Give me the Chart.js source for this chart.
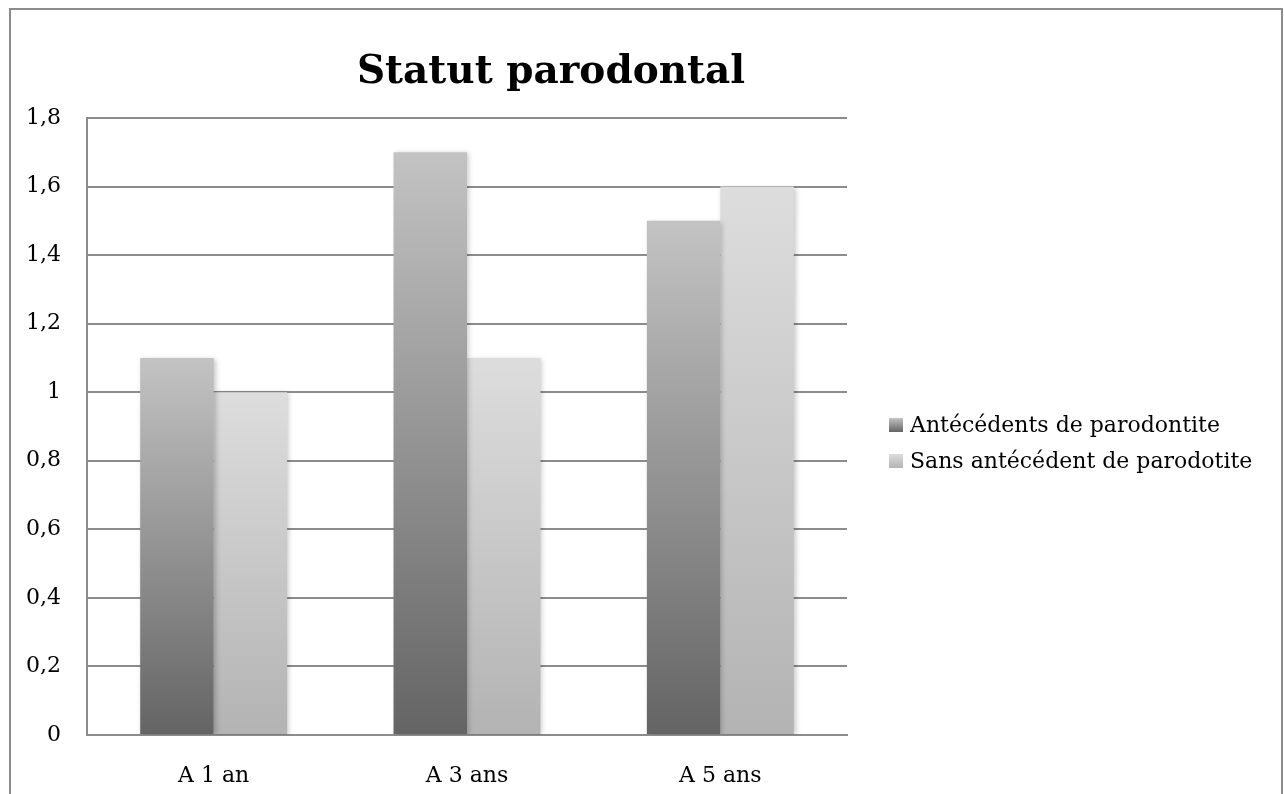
<!DOCTYPE html>
<html>
<head>
<meta charset="utf-8">
<script src="https://cdn.jsdelivr.net/npm/chart.js@4/dist/chart.umd.min.js"></script>
<style>
  body { margin: 0; background: #fff; }
  #wrap { position: relative; width: 1284px; height: 794px; }
  #frame {
    position: absolute; left: 9px; top: 8px; width: 1270px; height: 800px;
    border: 2px solid #8c8c8c; border-bottom: none; pointer-events: none;
  }
  canvas { position: absolute; left: 0; top: 0; }
</style>
</head>
<body>
<div id="wrap">
  <canvas id="chart" width="1284" height="794"></canvas>
  <div id="frame"></div>
</div>
<script>
const chartTitle = "Statut parodontal";
const categories = ["A 1 an", "A 3 ans", "A 5 ans"];
const seriesNames = ["Antécédents de parodontite", "Sans antécédent de parodotite"];
const withHistory = [1.1, 1.7, 1.5];
const withoutHistory = [1.0, 1.1, 1.6];
const yTicks = [0, 0.2, 0.4, 0.6, 0.8, 1, 1.2, 1.4, 1.6, 1.8];

// gradient stops, bottom -> top
let barShades = [
    ["#646464", "#c3c3c3"],
    ["#b3b3b3", "#dddddd"],
];

const serif = "'DejaVu Serif', serif";

function barGradient(context) {
    let chart = context.chart;
    if (!chart.chartArea || context.type !== "data") return barShades[context.datasetIndex][0];
    let y = chart.scales.y;
    let bottom = y.getPixelForValue(0);
    let top = y.getPixelForValue(context.raw);
    let g = chart.ctx.createLinearGradient(0, bottom, 0, top);
    g.addColorStop(0, barShades[context.datasetIndex][0]);
    g.addColorStop(1, barShades[context.datasetIndex][1]);
    return g;
}

const decor = {
    id: "decor",
    beforeDatasetsDraw(chart) {
        let ctx = chart.ctx;
        ctx.save();
        ctx.shadowColor = "rgba(0,0,0,0.22)";
        ctx.shadowBlur = 5;
        ctx.shadowOffsetX = 2;
        ctx.shadowOffsetY = 1;
    },
    afterDatasetsDraw(chart) {
        chart.ctx.restore();
    },
    afterDraw(chart) {
        let ctx = chart.ctx;
        ctx.save();
        ctx.fillStyle = "#000";
        ctx.textAlign = "center";
        ctx.textBaseline = "middle";
        ctx.font = "bold 39px " + serif;
        ctx.fillText(chartTitle, 551, 73);

        ctx.font = "22px " + serif;
        ctx.textAlign = "left";
        for (let i = 0; i < seriesNames.length; i++) {
            let cy = 425 + i * 36;
            let g = ctx.createLinearGradient(0, cy + 7, 0, cy - 7);
            g.addColorStop(0, barShades[i][0]);
            g.addColorStop(1, barShades[i][1]);
            ctx.fillStyle = g;
            ctx.fillRect(889, cy - 7, 14, 14);
            ctx.fillStyle = "#000";
            ctx.fillText(seriesNames[i], 910, cy + 1);
        }
        ctx.restore();
    },
};

new Chart(document.getElementById("chart"), {
    type: "bar",
    data: {
        labels: categories,
        datasets: [
            { label: seriesNames[0], data: withHistory, backgroundColor: barGradient },
            { label: seriesNames[1], data: withoutHistory, backgroundColor: barGradient },
        ],
    },
    options: {
        responsive: false,
        animation: false,
        layout: { padding: { top: 118, right: 437, bottom: 0, left: 0 } },
        datasets: { bar: { categoryPercentage: 0.58, barPercentage: 1 } },
        plugins: {
            legend: false,
            title: false,
            tooltip: false,
        },
        scales: {
            x: {
                afterFit: function (scale) { scale.height = 59; },
                grid: { display: false, drawTicks: false },
                border: { color: "#8c8c8c", width: 2 },
                ticks: { color: "#000", padding: 28, font: { family: serif, size: 22 } },
            },
            y: {
                min: 0,
                max: 1.8,
                afterFit: function (scale) { scale.width = 87; },
                afterBuildTicks: function (axis) {
                    axis.ticks = yTicks.map(function (v) { return { value: v }; });
                },
                grid: { color: "#8c8c8c", lineWidth: 2, drawTicks: false },
                border: { color: "#8c8c8c", width: 2 },
                ticks: {
                    color: "#000",
                    padding: 26,
                    font: { family: serif, size: 22 },
                    callback: function (value) {
                        return String(Math.round(value * 10) / 10).replace(".", ",");
                    },
                },
            },
        },
    },
    plugins: [decor],
});
</script>
</body>
</html>
